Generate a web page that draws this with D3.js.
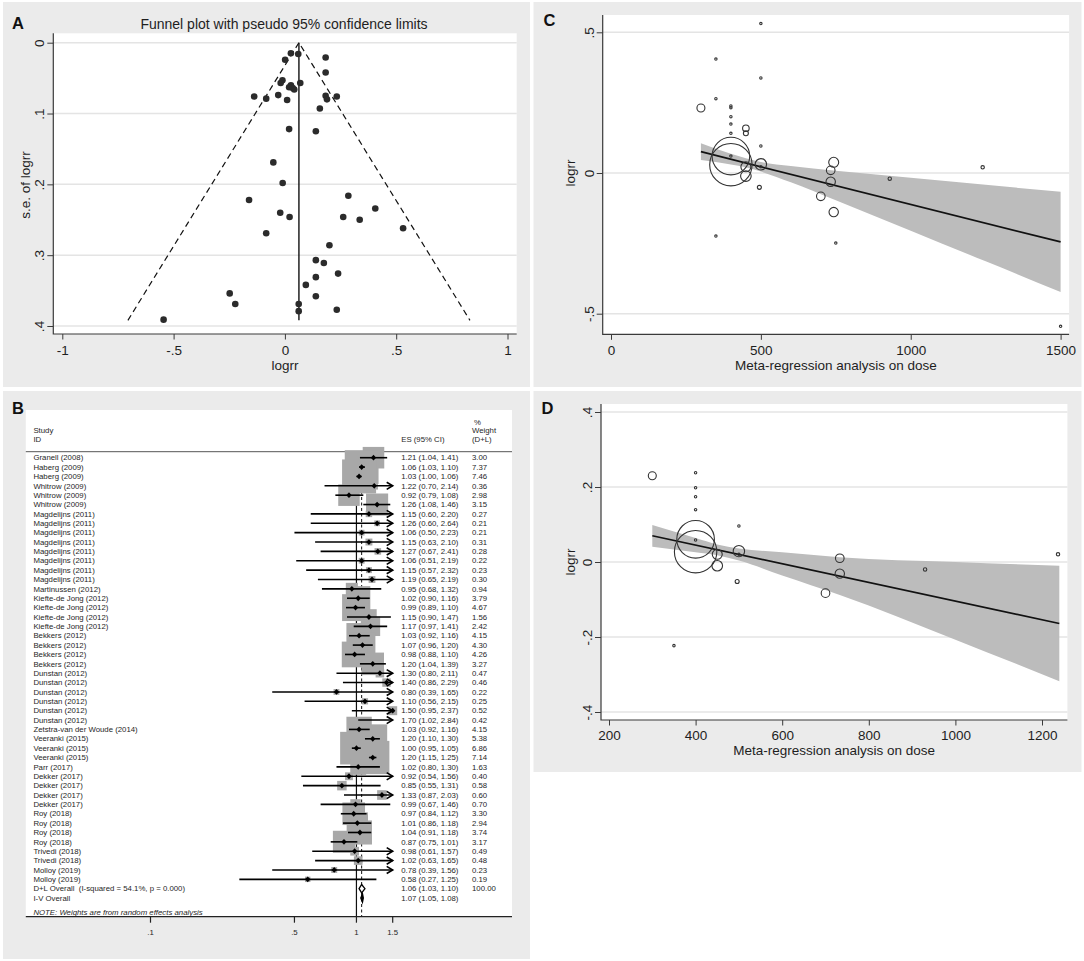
<!DOCTYPE html>
<html>
<head>
<meta charset="utf-8">
<script src="https://cdn.jsdelivr.net/npm/d3@7"></script>
<style>
  body { margin: 0; background: #fff; }
  svg { display: block; }
</style>
</head>
<body>
<div id="container"></div>
<script>
/* CONSTANTS AND GLOBALS */
const width = 1084, height = 961;
const font = '"Liberation Sans", Arial, sans-serif';
const panelColor = "#ebebeb", gridColor = "#e4e4e4", axisColor = "#3a3a3a", textColor = "#1e1e1e";

/* PANEL A DATA: FUNNEL PLOT */
const funnelLogrr = [0.027, 0.060, 0.001, 0.183, 0.183, -0.011, -0.019, 0.069, 0.027, 0.019, 0.035, 0.042,
  -0.138, -0.084, -0.030, 0.010, 0.183, 0.189, 0.233, 0.157, 0.019, 0.139, -0.052, -0.010, -0.161, 0.285,
  0.406, -0.021, 0.021, 0.262, 0.336, 0.531, -0.084, 0.200, 0.139, 0.175, 0.239, 0.139, 0.094, -0.248,
  0.139, -0.223, 0.062, 0.062, 0.233, -0.545];
const funnelSe = [0.015, 0.016, 0.024, 0.021, 0.042, 0.053, 0.057, 0.057, 0.060, 0.063, 0.064, 0.066,
  0.076, 0.079, 0.074, 0.081, 0.075, 0.080, 0.076, 0.093, 0.122, 0.125, 0.169, 0.198, 0.222, 0.216,
  0.234, 0.240, 0.246, 0.246, 0.250, 0.262, 0.269, 0.286, 0.307, 0.311, 0.326, 0.331, 0.342, 0.354,
  0.358, 0.369, 0.369, 0.379, 0.377, 0.391];
const funnelPooled = 0.063, funnelSeMax = 0.392;
const funnelXTicks = [-1, -0.5, 0, 0.5, 1];
const funnelYTicks = [0, 0.1, 0.2, 0.3, 0.4];

/* PANEL B DATA: FOREST PLOT */
const studies = ["Granell (2008)", "Haberg (2009)", "Haberg (2009)", "Whitrow (2009)", "Whitrow (2009)", "Whitrow (2009)",
  "Magdelijns (2011)", "Magdelijns (2011)", "Magdelijns (2011)", "Magdelijns (2011)", "Magdelijns (2011)",
  "Magdelijns (2011)", "Magdelijns (2011)", "Magdelijns (2011)", "Martinussen (2012)",
  "Kiefte-de Jong (2012)", "Kiefte-de Jong (2012)", "Kiefte-de Jong (2012)", "Kiefte-de Jong (2012)",
  "Bekkers (2012)", "Bekkers (2012)", "Bekkers (2012)", "Bekkers (2012)",
  "Dunstan (2012)", "Dunstan (2012)", "Dunstan (2012)", "Dunstan (2012)", "Dunstan (2012)", "Dunstan (2012)",
  "Zetstra-van der Woude (2014)", "Veeranki (2015)", "Veeranki (2015)", "Veeranki (2015)", "Parr (2017)",
  "Dekker (2017)", "Dekker (2017)", "Dekker (2017)", "Dekker (2017)",
  "Roy (2018)", "Roy (2018)", "Roy (2018)", "Roy (2018)", "Trivedi (2018)", "Trivedi (2018)",
  "Molloy (2019)", "Molloy (2019)"];
const esB = [1.21, 1.06, 1.03, 1.22, 0.92, 1.26, 1.15, 1.26, 1.06, 1.15, 1.27, 1.06, 1.15, 1.19, 0.95,
  1.02, 0.99, 1.15, 1.17, 1.03, 1.07, 0.98, 1.20, 1.30, 1.40, 0.80, 1.10, 1.50, 1.70, 1.03, 1.20, 1.00, 1.20,
  1.02, 0.92, 0.85, 1.33, 0.99, 0.97, 1.01, 1.04, 0.87, 0.98, 1.02, 0.78, 0.58];
const loB = [1.04, 1.03, 1.00, 0.70, 0.79, 1.08, 0.60, 0.60, 0.50, 0.63, 0.67, 0.51, 0.57, 0.65, 0.68,
  0.90, 0.89, 0.90, 0.97, 0.92, 0.96, 0.88, 1.04, 0.80, 0.86, 0.39, 0.56, 0.95, 1.02, 0.92, 1.10, 0.95, 1.15,
  0.80, 0.54, 0.55, 0.87, 0.67, 0.84, 0.86, 0.91, 0.75, 0.61, 0.63, 0.39, 0.27];
const hiB = [1.41, 1.10, 1.06, 2.14, 1.08, 1.46, 2.20, 2.64, 2.23, 2.10, 2.41, 2.19, 2.32, 2.19, 1.32,
  1.16, 1.10, 1.47, 1.41, 1.16, 1.20, 1.10, 1.39, 2.11, 2.29, 1.65, 2.15, 2.37, 2.84, 1.16, 1.30, 1.05, 1.25,
  1.30, 1.56, 1.31, 2.03, 1.46, 1.12, 1.18, 1.18, 1.01, 1.57, 1.65, 1.56, 1.25];
const wtB = [3.00, 7.37, 7.46, 0.36, 2.98, 3.15, 0.27, 0.21, 0.21, 0.31, 0.28, 0.22, 0.23, 0.30, 0.94,
  3.79, 4.67, 1.56, 2.42, 4.15, 4.30, 4.26, 3.27, 0.47, 0.46, 0.22, 0.25, 0.52, 0.42, 4.15, 5.38, 6.86, 7.14,
  1.63, 0.40, 0.58, 0.60, 0.70, 3.30, 2.94, 3.74, 3.17, 0.49, 0.48, 0.23, 0.19];
const overallLabels = ["D+L Overall  (I-squared = 54.1%, p = 0.000)", "I-V Overall"];
const overallEs = [1.06, 1.07], overallLo = [1.03, 1.05], overallHi = [1.10, 1.08];
const overallWt = ["100.00", ""];
const forestTicks = [0.1, 0.5, 1, 1.5];

/* PANEL C DATA: META-REGRESSION, ALL DOSES */
const doseC = [300, 350, 350, 350, 400, 400, 400, 400, 400, 400, 400, 400, 450, 450, 450, 450,
  500, 500, 500, 500, 500, 495, 700, 733, 733, 743, 743, 750, 930, 1240, 1500];
const logrrC = [0.231, 0.405, 0.264, -0.224, 0.238, 0.232, 0.200, 0.174, 0.141, 0.060, 0.060, 0.0295,
  0.159, 0.141, 0.022, -0.011, 0.531, 0.338, 0.096, 0.031, 0.022, -0.051, -0.083, 0.0095, -0.031,
  0.038, -0.139, -0.249, -0.020, 0.020, -0.545];
const wtC = [110, 10, 10, 10, 10, 10, 10, 10, 10, 10, 2440, 3100, 75, 43, 172, 194,
  10, 10, 10, 224, 10, 28, 128, 128, 152, 172, 152, 10, 20, 20, 10];
const fitDoseC = [300, 1500], fitLogrrC = [0.0757, -0.245];
const bandDoseC = [300, 400, 450, 500, 600, 750, 1000, 1250, 1500];
const bandUpC = [0.106, 0.068, 0.052, 0.039, 0.025, 0.008, -0.017, -0.042, -0.067];
const bandLoC = [0.046, 0.030, 0.020, 0.005, -0.033, -0.097, -0.205, -0.314, -0.423];

/* PANEL D DATA: META-REGRESSION, RESTRICTED */
const doseD = [300, 350, 400, 400, 400, 400, 400, 400, 400, 450, 450, 500, 500, 500, 496, 700, 733, 733, 930, 1237];
const logrrD = [0.230, -0.223, 0.238, 0.198, 0.174, 0.1395, 0.0587, 0.0605, 0.0275, 0.0205, -0.010,
  0.096, 0.029, 0.0205, -0.052, -0.083, 0.010, -0.031, -0.020, 0.0205];
const wtD = [110, 10, 10, 10, 10, 10, 10, 2440, 3100, 172, 194, 10, 224, 10, 28, 128, 128, 152, 20, 20];
const fitDoseD = [300, 1240], fitLogrrD = [0.070, -0.164];
const bandDoseD = [300, 400, 450, 500, 600, 733, 1000, 1240];
const bandUpD = [0.099, 0.064, 0.047, 0.036, 0.026, 0.013, 0.000, -0.010];
const bandLoD = [0.041, 0.026, 0.018, 0.004, -0.036, -0.088, -0.207, -0.318];

/* HELPERS */
const fmt = d => d === 0 ? "0" : String(d).replace(/^(-?)0\./, "$1.");
const f2 = d3.format(".2f");

const svg = d3.select("#container")
  .append("svg")
  .attr("width", width)
  .attr("height", height)
  .style("font-family", font);

// PANEL BACKGROUNDS AND LETTERS
const panels = [
  { id: "A", x: 3, y: 2, w: 527, h: 385, lx: 12, ly: 28.5 },
  { id: "B", x: 3, y: 391, w: 527, h: 568, lx: 12, ly: 413.5 },
  { id: "C", x: 533.5, y: 2, w: 548, h: 385, lx: 543.5, ly: 25.5 },
  { id: "D", x: 533.5, y: 391, w: 548, h: 381, lx: 541.5, ly: 413.5 }
];
svg.selectAll("rect.panel")
  .data(panels)
  .join("rect")
  .attr("class", "panel")
  .attr("x", d => d.x).attr("y", d => d.y)
  .attr("width", d => d.w).attr("height", d => d.h)
  .attr("fill", panelColor);

function plotFrame(plot) {
  svg.append("rect")
    .attr("x", plot.x0).attr("y", plot.y0)
    .attr("width", plot.x1 - plot.x0).attr("height", plot.y1 - plot.y0)
    .attr("fill", "#fff");
}

function yAxis(scale, ticks, plot, labelX) {
  svg.append("g").selectAll("line")
    .data(ticks)
    .join("line")
    .attr("x1", plot.x0).attr("x2", plot.x1)
    .attr("y1", d => scale(d)).attr("y2", d => scale(d))
    .attr("stroke", gridColor).attr("stroke-width", 1.5);
  svg.append("g")
    .attr("transform", `translate(${plot.x0},0)`)
    .call(d3.axisLeft(scale).tickValues(ticks).tickSize(6).tickFormat(fmt))
    .call(g => g.select(".domain").remove())
    .call(g => g.selectAll("line").attr("stroke", axisColor))
    .call(g => g.selectAll("text")
      .attr("x", null).attr("dy", null)
      .attr("transform", `translate(${labelX - plot.x0},0) rotate(-90)`)
      .attr("text-anchor", "middle")
      .attr("fill", textColor)
      .style("font-size", "13.5px")
      .style("font-family", font));
}

function xAxis(scale, ticks, plot, labelY) {
  svg.append("g")
    .attr("transform", `translate(0,${plot.y1})`)
    .call(d3.axisBottom(scale).tickValues(ticks).tickSize(5.5).tickFormat(fmt))
    .call(g => g.select(".domain").remove())
    .call(g => g.selectAll("line").attr("stroke", axisColor))
    .call(g => g.selectAll("text")
      .attr("y", labelY - plot.y1).attr("dy", null)
      .attr("fill", textColor)
      .style("font-size", "13.5px")
      .style("font-family", font));
}

function axisLines(plot) {
  svg.append("path")
    .attr("d", `M${plot.x0},${plot.y0}V${plot.y1}H${plot.x1}`)
    .attr("fill", "none")
    .attr("stroke", axisColor)
    .attr("stroke-width", 1.2);
}

function axisTitles(plot, xTitle, xBase, yTitle, yBase, yCenter) {
  svg.append("text")
    .attr("x", (plot.x0 + plot.x1) / 2).attr("y", xBase)
    .attr("text-anchor", "middle")
    .style("font-size", "13.5px").attr("fill", textColor)
    .text(xTitle);
  svg.append("text")
    .attr("transform", `translate(${yBase},${yCenter}) rotate(-90)`)
    .attr("text-anchor", "middle")
    .style("font-size", "13.5px").attr("fill", textColor)
    .text(yTitle);
}

/* PANEL A: FUNNEL PLOT */
const plotA = { x0: 53.3, x1: 516.7, y0: 33.3, y1: 334 };
const xA = d3.scaleLinear().domain([-1, 1]).range([62.3, 507.5]);
const yA = d3.scaleLinear().domain([0, 0.4]).range([42.7, 326]);
plotFrame(plotA);
yAxis(yA, funnelYTicks, plotA, 43.8);
xAxis(xA, funnelXTicks, plotA, 355);
axisLines(plotA);
axisTitles(plotA, "logrr", 370, "s.e. of logrr", 29.5, 185);

svg.append("text")
  .attr("x", 284).attr("y", 28.5)
  .attr("text-anchor", "middle")
  .style("font-size", "14px").attr("fill", textColor)
  .text("Funnel plot with pseudo 95% confidence limits");

// pseudo 95% limits and pooled estimate
const half = 1.96 * funnelSeMax;
svg.append("path")
  .attr("d", d3.line()([[xA(funnelPooled - half), yA(funnelSeMax)], [xA(funnelPooled), yA(0)], [xA(funnelPooled + half), yA(funnelSeMax)]]))
  .attr("fill", "none").attr("stroke", "#111").attr("stroke-width", 1.2)
  .attr("stroke-dasharray", "6,4");
svg.append("line")
  .attr("x1", xA(funnelPooled)).attr("x2", xA(funnelPooled))
  .attr("y1", yA(0)).attr("y2", yA(funnelSeMax))
  .attr("stroke", "#111").attr("stroke-width", 1.4);

svg.append("g").selectAll("circle")
  .data(funnelLogrr.map((v, i) => [v, funnelSe[i]]))
  .join("circle")
  .attr("cx", d => xA(d[0])).attr("cy", d => yA(d[1]))
  .attr("r", 3.3)
  .attr("fill", "#2b2b2b");

/* PANEL B: FOREST PLOT */
const forestLeft = 25.8, forestRight = 512, forestTop = 410, forestAxisY = 916.7;
const xB = d3.scaleLog().domain([0.1, 1.5]).range([150.5, 392.7]);
const rowY = d3.scaleLinear().domain([0, 46]).range([457.7, 888.7]);
const boxSide = d3.scaleSqrt().domain([0, 7.46]).range([0, 34]);
const forestRows = studies.map((s, i) => ({ s, i, es: esB[i], lo: loB[i], hi: hiB[i], w: wtB[i] }));
const colName = 33.4, colEs = 401.2, colWt = 472;

svg.append("rect")
  .attr("x", forestLeft).attr("y", forestTop)
  .attr("width", forestRight - forestLeft).attr("height", forestAxisY - forestTop)
  .attr("fill", "#fff");

const small = (sel) => sel.style("font-size", "7.8px").attr("fill", "#262626");

// HEADER
small(svg.append("text").attr("x", colName).attr("y", 433).text("Study"));
small(svg.append("text").attr("x", colName).attr("y", 442).text("ID"));
small(svg.append("text").attr("x", colEs).attr("y", 442).text("ES (95% CI)"));
small(svg.append("text").attr("x", colWt + 2).attr("y", 424.5).text("%"));
small(svg.append("text").attr("x", colWt).attr("y", 433).text("Weight"));
small(svg.append("text").attr("x", colWt).attr("y", 442).text("(D+L)"));
svg.append("line")
  .attr("x1", forestLeft).attr("x2", forestRight)
  .attr("y1", 451.7).attr("y2", 451.7)
  .attr("stroke", "#555").attr("stroke-width", 1);

// NULL LINE AND OVERALL LINE
svg.append("line")
  .attr("x1", xB(1)).attr("x2", xB(1))
  .attr("y1", 453).attr("y2", forestAxisY)
  .attr("stroke", "#111").attr("stroke-width", 1.2);
svg.append("line")
  .attr("x1", xB(overallEs[0])).attr("x2", xB(overallEs[0]))
  .attr("y1", 453).attr("y2", forestAxisY)
  .attr("stroke", "#111").attr("stroke-width", 1)
  .attr("stroke-dasharray", "3,2.5");

// WEIGHT BOXES
svg.append("g").selectAll("rect")
  .data(forestRows.filter(d => d.es <= 1.5))
  .join("rect")
  .attr("x", d => xB(d.es) - boxSide(d.w) / 2)
  .attr("y", d => rowY(d.i) - boxSide(d.w) / 2)
  .attr("width", d => boxSide(d.w))
  .attr("height", d => boxSide(d.w))
  .attr("fill", "#a8a8a8");

// CONFIDENCE INTERVALS
svg.append("g").selectAll("line")
  .data(forestRows)
  .join("line")
  .attr("x1", d => xB(Math.max(d.lo, 0.1)))
  .attr("x2", d => xB(Math.min(d.hi, 1.5)))
  .attr("y1", d => rowY(d.i)).attr("y2", d => rowY(d.i))
  .attr("stroke", "#000").attr("stroke-width", 1.6);
svg.append("g").selectAll("path")
  .data(forestRows.filter(d => d.hi > 1.5))
  .join("path")
  .attr("d", d => {
    const x = xB(1.5), y = rowY(d.i);
    return `M${x - 6},${y - 3.6}L${x},${y}L${x - 6},${y + 3.6}`;
  })
  .attr("fill", "none").attr("stroke", "#000").attr("stroke-width", 1.6);

// POINT ESTIMATES
svg.append("g").selectAll("path")
  .data(forestRows.filter(d => d.es <= 1.5))
  .join("path")
  .attr("d", d => {
    const x = xB(d.es), y = rowY(d.i);
    return `M${x},${y - 2.9}L${x + 2.7},${y}L${x},${y + 2.9}L${x - 2.7},${y}Z`;
  })
  .attr("fill", "#000");

// OVERALL DIAMONDS
overallEs.forEach((e, k) => {
  const y = rowY(46 + k);
  svg.append("path")
    .attr("d", `M${xB(overallLo[k])},${y}L${xB(e)},${y - 4.2}L${xB(overallHi[k])},${y}L${xB(e)},${y + 4.2}Z`)
    .attr("fill", k === 0 ? "#fff" : "#000")
    .attr("stroke", "#000").attr("stroke-width", 1.3);
});

// TEXT COLUMNS
const rowText = svg.append("g");
small(rowText.selectAll("text.name").data(forestRows).join("text").attr("class", "name")
  .attr("x", colName).attr("y", d => rowY(d.i) + 2.7).text(d => d.s));
small(rowText.selectAll("text.es").data(forestRows).join("text").attr("class", "es")
  .attr("x", colEs).attr("y", d => rowY(d.i) + 2.7)
  .text(d => `${f2(d.es)} (${f2(d.lo)}, ${f2(d.hi)})`));
small(rowText.selectAll("text.wt").data(forestRows).join("text").attr("class", "wt")
  .attr("x", colWt).attr("y", d => rowY(d.i) + 2.7).text(d => f2(d.w)));
overallLabels.forEach((lab, k) => {
  const y = rowY(46 + k) + 2.7;
  small(svg.append("text").attr("x", colName).attr("y", y).style("white-space", "pre").text(lab));
  small(svg.append("text").attr("x", colEs).attr("y", y)
    .text(`${f2(overallEs[k])} (${f2(overallLo[k])}, ${f2(overallHi[k])})`));
  small(svg.append("text").attr("x", colWt).attr("y", y).text(overallWt[k]));
});
small(svg.append("text").attr("x", colName).attr("y", rowY(48.5) + 2.6)
  .style("font-style", "italic").text("NOTE: Weights are from random effects analysis"));

// FOREST AXIS
svg.append("line")
  .attr("x1", forestLeft).attr("x2", forestRight)
  .attr("y1", forestAxisY).attr("y2", forestAxisY)
  .attr("stroke", "#222").attr("stroke-width", 1.2);
svg.append("g").selectAll("line")
  .data(forestTicks)
  .join("line")
  .attr("x1", d => xB(d)).attr("x2", d => xB(d))
  .attr("y1", forestAxisY).attr("y2", forestAxisY + 6)
  .attr("stroke", "#222").attr("stroke-width", 1.2);
small(svg.append("g").selectAll("text")
  .data(forestTicks)
  .join("text")
  .attr("x", d => xB(d)).attr("y", 934.5)
  .attr("text-anchor", "middle")
  .text(fmt));

/* PANELS C AND D: META-REGRESSION BUBBLE PLOTS */
const bubbleR = d3.scaleSqrt().domain([0, 3100]).range([0, 21.2]);

function regressionPanel(p) {
  plotFrame(p.plot);
  yAxis(p.y, p.yTicks, p.plot, p.yLabelX);
  xAxis(p.x, p.xTicks, p.plot, p.xLabelY);

  const band = p.bandDose.map((d, i) => ({ d, up: p.bandUp[i], lo: p.bandLo[i] }));
  svg.append("path")
    .datum(band)
    .attr("d", d3.area().curve(d3.curveMonotoneX)
      .x(d => p.x(d.d)).y0(d => p.y(d.lo)).y1(d => p.y(d.up)))
    .attr("fill", "#bcbcbc");
  svg.append("path")
    .datum(p.fitDose.map((d, i) => [d, p.fitLogrr[i]]))
    .attr("d", d3.line().x(d => p.x(d[0])).y(d => p.y(d[1])))
    .attr("fill", "none").attr("stroke", "#111").attr("stroke-width", 1.7);

  svg.append("g").selectAll("circle")
    .data(p.dose.map((d, i) => ({ d, v: p.logrr[i], w: p.wt[i] })))
    .join("circle")
    .attr("cx", d => p.x(d.d)).attr("cy", d => p.y(d.v))
    .attr("r", d => bubbleR(d.w))
    .attr("fill", "none")
    .attr("stroke", "#333").attr("stroke-width", 1.1);

  axisLines(p.plot);
  axisTitles(p.plot, "Meta-regression analysis on dose", p.xTitleY, "logrr", p.yTitleX, p.yTitleCenter);
}

const plotC = { x0: 602.7, x1: 1069.1, y0: 15, y1: 334.3 };
regressionPanel({
  plot: plotC,
  x: d3.scaleLinear().domain([0, 1500]).range([611, 1060.6]),
  y: d3.scaleLinear().domain([-0.5, 0.5]).range([313.7, 32.3]),
  xTicks: [0, 500, 1000, 1500], yTicks: [-0.5, 0, 0.5],
  yLabelX: 593.5, xLabelY: 355, xTitleY: 370, yTitleX: 575, yTitleCenter: 173,
  dose: doseC, logrr: logrrC, wt: wtC,
  fitDose: fitDoseC, fitLogrr: fitLogrrC,
  bandDose: bandDoseC, bandUp: bandUpC, bandLo: bandLoC
});

const plotD = { x0: 601, x1: 1067.4, y0: 404, y1: 720 };
regressionPanel({
  plot: plotD,
  x: d3.scaleLinear().domain([200, 1200]).range([609, 1042]),
  y: d3.scaleLinear().domain([-0.4, 0.4]).range([712, 412]),
  xTicks: [200, 400, 600, 800, 1000, 1200], yTicks: [-0.4, -0.2, 0, 0.2, 0.4],
  yLabelX: 592, xLabelY: 740, xTitleY: 755, yTitleX: 574.5, yTitleCenter: 562,
  dose: doseD, logrr: logrrD, wt: wtD,
  fitDose: fitDoseD, fitLogrr: fitLogrrD,
  bandDose: bandDoseD, bandUp: bandUpD, bandLo: bandLoD
});

// PANEL LETTERS
svg.selectAll("text.letter")
  .data(panels)
  .join("text")
  .attr("class", "letter")
  .attr("x", d => d.lx).attr("y", d => d.ly)
  .style("font-size", "16.5px")
  .style("font-weight", "bold")
  .attr("fill", "#111")
  .text(d => d.id);
</script>
</body>
</html>
